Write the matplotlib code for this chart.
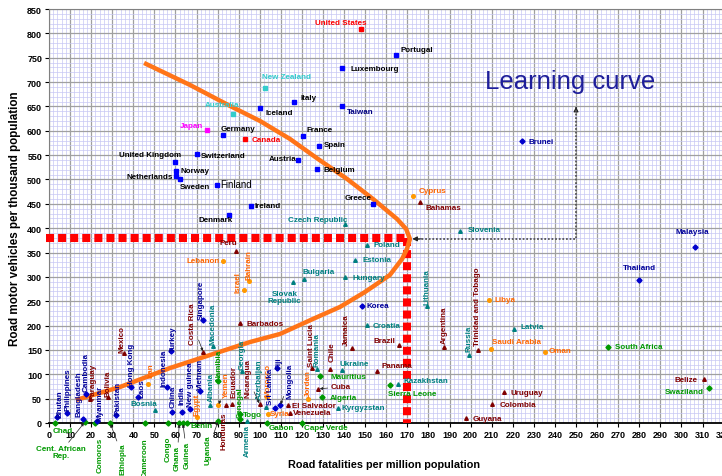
import matplotlib
matplotlib.use("Agg")
import matplotlib.pyplot as plt
from matplotlib.ticker import MultipleLocator

plt.rcParams['font.family'] = ['Liberation Sans', 'DejaVu Sans']

# ---------------- data ----------------
countries = [
    'United States', 'Portugal', 'Luxembourg', 'New Zealand', 'Italy', 'Iceland', 'Taiwan',
    'France', 'Spain', 'Canada', 'Germany', 'Japan', 'Australia', 'United Kingdom',
    'Switzerland', 'Norway', 'Netherlands', 'Sweden', 'Finland', 'Denmark', 'Ireland',
    'Austria', 'Belgium', 'Greece', 'Cyprus', 'Bahamas', 'Brunei', 'Malaysia', 'Thailand',
    'Korea', 'Slovenia', 'Czech Republic', 'Poland', 'Estonia', 'Hungary', 'Bulgaria',
    'Slovak Republic', 'Lithuania', 'Croatia', 'Latvia', 'Russia', 'Ukraine', 'Kazakhstan',
    'Kyrgyzstan', 'Macedonia', 'Albania', 'Romania', 'Bosnia', 'Georgia', 'Armenia',
    'Azerbaijan', 'Peru', 'Barbados', 'Trinidad and Tobago', 'Argentina', 'Belize',
    'Uruguay', 'Colombia', 'Guyana', 'Brazil', 'Panama', 'Jamaica', 'Chile', 'Saint Lucia',
    'Cuba', 'El Salvador', 'Venezuela', 'Nicaragua', 'Honduras', 'Ecuador', 'Costa Rica',
    'Mexico', 'Paraguay', 'Bolivia', 'Lebanon', 'Israel', 'Bahrain', 'Libya',
    'Saudi Arabia', 'Oman', 'Iran', 'Egypt', 'Yemen', 'Jordan', 'Morocco', 'Syria',
    'Chad', 'Cent. African Rep.', 'Comoros', 'Ethiopia', 'Cameroon', 'Congo', 'Ghana',
    'Guinea', 'Benin', 'Uganda', 'Namibia', 'Senegal', 'Togo', 'Gabon', 'Cape Verde',
    'Mauritius', 'Algeria', 'Sierra Leone', 'South Africa', 'Swaziland', 'Bhutan',
    'Philippines', 'Bangladesh', 'Cambodia', 'Myanmar', 'Pakistan', 'Hong Kong', 'Laos',
    'Indonesia', 'China', 'Turkey', 'India', 'New guinea', 'Vietnam', 'Singapore', 'Fiji',
    'Mongolia', 'Sri Lanka',
]
fatalities = [
    148, 164.5, 139, 102.5, 116.4, 100, 139,
    120.3, 128.2, 93, 82.4, 75.1, 87.4, 59.8,
    70, 60.2, 60.2, 62.1, 79.5, 85.4, 95.7,
    118, 127, 153.5, 172.8, 176, 224.2, 306.5, 280,
    148.3, 195, 140.4, 150.7, 145.2, 140.4, 121,
    115.6, 179.2, 151, 220.7, 199.4, 138.8, 165.7,
    137.2, 77.8, 76.4, 127, 50.3, 91.4, 94,
    103, 88.7, 90.6, 203.4, 187.5, 310.7,
    216, 210.3, 197.8, 166.2, 155.4, 143.6, 133.3, 124.6,
    127.8, 113.2, 114.3, 100, 84, 87, 73.2,
    35.6, 19.4, 28, 82.5, 92.7, 95, 208.7,
    209.7, 235.3, 47.1, 70, 80.3, 123, 103.3, 104,
    2.8, 17, 21.8, 29, 45.5, 56.3, 61.8,
    63.5, 65.5, 80.3, 80.3, 90.6, 90.6, 103.3, 119.9,
    128.6, 129.4, 161.8, 265, 313, 4,
    8.4, 16.3, 17.5, 23, 31.8, 38.8, 42,
    55.8, 58.5, 57.9, 63, 66.9, 71.6, 73.2, 108,
    109.6, 107,
]
vehicles = [
    809, 756, 728, 688, 660, 646, 651,
    589, 569, 583, 591, 602, 634, 535,
    552, 517, 507, 500, 489, 428, 446,
    539, 521, 450, 467, 453, 578, 362, 294,
    240, 395, 409, 365, 335, 300, 296,
    289, 240, 201, 194, 140, 109, 80,
    31, 158, 36, 111, 27, 107, 5,
    33, 354, 205, 150, 157, 90,
    63, 38, 10, 160, 107, 155, 111, 113,
    70, 36, 21, 38, 36, 40, 145,
    143, 49, 53, 333, 273, 292, 253,
    152, 145, 81, 12, 36, 49, 53, 19,
    0, 2, 0, 0, 0, 0, 0,
    0, 0, 5, 87, 8, 18, 0, 0,
    96, 53, 77, 157, 72, 12,
    20, 8, 60, 5, 16, 73, 53,
    73, 22, 147, 22, 29, 66, 212, 113,
    36, 30,
]
groups = [
    'us', 'hi', 'hi', 'anz', 'hi', 'hi', 'tw',
    'hi', 'hi', 'us', 'hi', 'jp', 'anz', 'hi',
    'hi', 'hi', 'hi', 'hi', 'hi', 'hi', 'hi',
    'hi', 'hi', 'hi', 'me', 'la', 'as', 'as', 'as',
    'as', 'ee', 'ee', 'ee', 'ee', 'ee', 'ee',
    'ee', 'ee', 'ee', 'ee', 'ee', 'ee', 'ee',
    'ee', 'ee', 'ee', 'ee', 'ee', 'ee', 'ee',
    'ee', 'la', 'la', 'la', 'la', 'la',
    'la', 'la', 'la', 'la', 'la', 'la', 'la', 'la',
    'la', 'la', 'la', 'la', 'la', 'la', 'la',
    'la', 'la', 'la', 'me', 'me', 'me', 'me',
    'me', 'me', 'me', 'me', 'me', 'me', 'me', 'me',
    'af', 'af', 'af', 'af', 'af', 'af', 'af',
    'af', 'af', 'af', 'af', 'af', 'af', 'af', 'af',
    'af', 'af', 'af', 'af', 'af', 'as',
    'as', 'as', 'as', 'as', 'as', 'as', 'as',
    'as', 'as', 'as', 'as', 'as', 'as', 'as', 'as',
    'as', 'as',
]

# learning-curve annotation
curve_x = [12.8, 33.7, 57.4, 76.4, 95.4, 109.6, 125.2, 138.0, 149.9, 161.7, 167.5,
           169.8, 171.2, 169.4, 165.1, 153.7, 141.4, 127.6, 114.3, 100.1, 85.9, 66.9, 45.1]
curve_y = [47.2, 73.9, 112.9, 139.6, 166.3, 182.8, 213.6, 238.2, 269.0, 303.9, 336.8,
           357.3, 377.8, 398.4, 418.9, 459.9, 501.0, 542.1, 583.2, 620.1, 650.9, 694.0, 739.2]
threshold_x = 170
threshold_y = 380
target_x = 250
target_y = 655

x_ticks = list(range(0, 321, 10))
y_ticks = list(range(0, 851, 50))

# ---------------- styles ----------------
STYLE = {
    'hi':  dict(marker='s', mc='#0000FF', tc='#000000'),
    'tw':  dict(marker='s', mc='#0000FF', tc='#000080'),
    'us':  dict(marker='s', mc='#FF0000', tc='#FF0000'),
    'jp':  dict(marker='s', mc='#FF00FF', tc='#FF00FF'),
    'anz': dict(marker='s', mc='#33CCCC', tc='#33CCCC'),
    'ee':  dict(marker='^', mc='#008080', tc='#008080'),
    'la':  dict(marker='^', mc='#800000', tc='#800000'),
    'me':  dict(marker='o', mc='#FF9900', tc='#FF6600'),
    'af':  dict(marker='D', mc='#009900', tc='#009900'),
    'as':  dict(marker='D', mc='#0000CC', tc='#000099'),
}

# label placement: (dx px, dy px, ha, va, rotation, arrow)
V = 90
LAYOUT = {
    'United States': (-20, 6, 'center', 'center', 0, False),
    'Portugal': (5, 5, 'left', 'center', 0, False),
    'Luxembourg': (8, 0, 'left', 'center', 0, False),
    'New Zealand': (-3, 11, 'left', 'center', 0, False),
    'Italy': (6, 4, 'left', 'center', 0, False),
    'Iceland': (6, -4, 'left', 'center', 0, False),
    'Taiwan': (5, -6, 'left', 'center', 0, False),
    'France': (4, 7, 'left', 'center', 0, False),
    'Spain': (5, 1, 'left', 'center', 0, False),
    'Canada': (7, 0, 'left', 'center', 0, False),
    'Germany': (-2, 7, 'left', 'center', 0, False),
    'Japan': (-4, 4, 'right', 'center', 0, False),
    'Australia': (-11, 10, 'center', 'center', 0, False),
    'United Kingdom': (-25, 8, 'center', 'center', 0, False),
    'Switzerland': (4, -1, 'left', 'center', 0, False),
    'Norway': (5, 1, 'left', 'center', 0, False),
    'Netherlands': (-3, 0, 'right', 'center', 0, False),
    'Sweden': (0, -7, 'left', 'center', 0, False),
    'Finland': (4, 1, 'left', 'center', 0, False),
    'Denmark': (-13, -5, 'center', 'center', 0, False),
    'Ireland': (4, 0, 'left', 'center', 0, False),
    'Austria': (-1, 2, 'right', 'center', 0, False),
    'Belgium': (7, 0, 'left', 'center', 0, False),
    'Greece': (-1, 6, 'right', 'center', 0, False),
    'Cyprus': (5, 5, 'left', 'center', 0, False),
    'Bahamas': (5, -5, 'left', 'center', 0, False),
    'Brunei': (7, 0, 'left', 'center', 0, False),
    'Malaysia': (-3, 15, 'center', 'center', 0, False),
    'Thailand': (0, 12, 'center', 'center', 0, False),
    'Korea': (5, 1, 'left', 'center', 0, False),
    'Slovenia': (8, 1, 'left', 'center', 0, False),
    'Czech Republic': (2, 4, 'right', 'center', 0, False),
    'Poland': (7, 1, 'left', 'center', 0, False),
    'Estonia': (7, 0, 'left', 'center', 0, False),
    'Hungary': (8, -1, 'left', 'center', 0, False),
    'Bulgaria': (-2, 7, 'left', 'center', 0, False),
    'Slovak Republic': (-8, -15, 'center', 'center', 0, False),
    'Lithuania': (0, 2, 'center', 'bottom', V, False),
    'Croatia': (5, 0, 'left', 'center', 0, False),
    'Latvia': (6, 2, 'left', 'center', 0, False),
    'Russia': (0, 4, 'center', 'bottom', V, False),
    'Ukraine': (-2, 6, 'left', 'center', 0, False),
    'Kazakhstan': (5, 4, 'left', 'center', 0, False),
    'Kyrgyzstan': (3, 0, 'left', 'center', 0, False),
    'Macedonia': (0, 2, 'center', 'bottom', V, False),
    'Albania': (1, 4, 'center', 'bottom', V, False),
    'Romania': (0, 3, 'center', 'bottom', V, False),
    'Bosnia': (2, 6, 'right', 'center', 0, False),
    'Georgia': (0, 2, 'center', 'bottom', V, False),
    'Armenia': (0, -3, 'center', 'top', V, False),
    'Azerbaijan': (-7, 8, 'center', 'bottom', V, False),
    'Peru': (1, 8, 'right', 'center', 0, False),
    'Barbados': (7, 0, 'left', 'center', 0, False),
    'Trinidad and Tobago': (0, 5, 'center', 'bottom', V, False),
    'Argentina': (0, 4, 'center', 'bottom', V, False),
    'Belize': (-6, 0, 'right', 'center', 0, False),
    'Uruguay': (6, 0, 'left', 'center', 0, False),
    'Colombia': (7, 0, 'left', 'center', 0, False),
    'Guyana': (7, 0, 'left', 'center', 0, False),
    'Brazil': (-4, 5, 'right', 'center', 0, False),
    'Panama': (5, 5, 'left', 'center', 0, False),
    'Jamaica': (-5, 3, 'center', 'bottom', V, False),
    'Chile': (2, 8, 'center', 'bottom', V, False),
    'Saint Lucia': (0, 2, 'center', 'bottom', V, False),
    'Cuba': (12, 2, 'left', 'center', 0, True),
    'El Salvador': (4, 0, 'left', 'center', 0, False),
    'Venezuela': (3, 0, 'left', 'center', 0, False),
    'Nicaragua': (-12, 7, 'center', 'bottom', V, True),
    'Honduras': (-2, -6, 'center', 'top', V, False),
    'Ecuador': (2, 7, 'center', 'bottom', V, False),
    'Costa Rica': (-11, 8, 'center', 'bottom', V, True),
    'Mexico': (-2, 1, 'center', 'bottom', V, False),
    'Paraguay': (3, 0, 'center', 'bottom', V, False),
    'Bolivia': (0, 1, 'center', 'bottom', V, False),
    'Lebanon': (-3, 0, 'right', 'center', 0, False),
    'Israel': (-6, -2, 'center', 'bottom', V, False),
    'Bahrain': (0, 2, 'center', 'bottom', V, False),
    'Libya': (6, 0, 'left', 'center', 0, False),
    'Saudi Arabia': (1, 7, 'left', 'center', 0, False),
    'Oman': (4, 2, 'left', 'center', 0, False),
    'Iran': (3, 7, 'center', 'bottom', V, False),
    'Egypt': (0, 2, 'center', 'bottom', V, False),
    'Yemen': (8, 8, 'center', 'bottom', V, True),
    'Jordan': (0, 3, 'center', 'bottom', V, False),
    'Morocco': (1, 1, 'center', 'bottom', V, False),
    'Syria': (2, 0, 'left', 'center', 0, False),
    'Chad': (8, -8, 'center', 'center', 0, False),
    'Cent. African Rep.': (-24, -30, 'center', 'center', 0, True),
    'Comoros': (5, -14, 'center', 'top', V, False),
    'Ethiopia': (13, -19, 'center', 'top', V, True),
    'Cameroon': (0, -14, 'center', 'top', V, False),
    'Congo': (0, -13, 'center', 'top', V, False),
    'Ghana': (-2, -22, 'center', 'top', V, True),
    'Guinea': (4, -18, 'center', 'top', V, True),
    'Benin': (3, -3, 'left', 'center', 0, False),
    'Uganda': (-10, -14, 'center', 'top', V, True),
    'Namibia': (1, 1, 'center', 'bottom', V, False),
    'Senegal': (0, 2, 'center', 'bottom', V, False),
    'Togo': (3, 0, 'left', 'center', 0, False),
    'Gabon': (2, -5, 'left', 'center', 0, False),
    'Cape Verde': (2, -5, 'left', 'center', 0, False),
    'Mauritius': (10, 0, 'left', 'center', 0, False),
    'Algeria': (8, 0, 'left', 'center', 0, False),
    'Sierra Leone': (-2, -8, 'left', 'center', 0, False),
    'South Africa': (7, 0, 'left', 'center', 0, False),
    'Swaziland': (-5, -4, 'right', 'center', 0, False),
    'Bhutan': (3, 0, 'center', 'bottom', V, False),
    'Philippines': (1, 3, 'center', 'bottom', V, False),
    'Bangladesh': (-4, 3, 'center', 'bottom', V, False),
    'Cambodia': (0, 3, 'center', 'bottom', V, False),
    'Myanmar': (3, 1, 'center', 'bottom', V, False),
    'Pakistan': (2, 1, 'center', 'bottom', V, False),
    'Hong Kong': (1, 1, 'center', 'bottom', V, False),
    'Laos': (4, 0, 'center', 'bottom', V, False),
    'Indonesia': (-3, 1, 'center', 'bottom', V, False),
    'China': (1, 5, 'center', 'bottom', V, False),
    'Turkey': (2, 0, 'center', 'bottom', V, False),
    'India': (0, 8, 'center', 'bottom', V, False),
    'New guinea': (0, 3, 'center', 'bottom', V, False),
    'Vietnam': (0, 2, 'center', 'bottom', V, False),
    'Singapore': (-2, 1, 'center', 'bottom', V, False),
    'Fiji': (2, 0, 'center', 'bottom', V, False),
    'Mongolia': (10, 7, 'center', 'bottom', V, True),
    'Sri Lanka': (-4, 4, 'center', 'bottom', V, False),
}
LABEL_TEXT = {'Slovak Republic': 'Slovak\nRepublic', 'Cent. African Rep.': 'Cent. African\nRep.'}

# ---------------- figure ----------------
W, H = 722, 477
fig = plt.figure(figsize=(W / 100, H / 100), dpi=100)
fig.patch.set_facecolor('white')
ax = fig.add_axes([49 / W, 53 / H, 674.6 / W, 414 / H])
ax.set_xlim(0, 320)
ax.set_ylim(0, 850)

ax.xaxis.set_minor_locator(MultipleLocator(2))
ax.yaxis.set_minor_locator(MultipleLocator(10))
ax.set_xticks(x_ticks)
ax.set_yticks(y_ticks)
ax.set_xticklabels([str(t) for t in x_ticks], fontsize=6.5, fontweight='bold')
ax.set_yticklabels([str(t) for t in y_ticks], fontsize=6.5, fontweight='bold')
ax.grid(which='minor', color='#C8C8F4', lw=0.5)
ax.grid(which='major', color='#A0A0A0', lw=0.9)
ax.set_axisbelow(True)
ax.tick_params(which='major', length=3, width=0.8, pad=2)
ax.tick_params(which='minor', length=0)
for s in ['left', 'top']:
    ax.spines[s].set_color('#808080')
ax.spines['right'].set_visible(False)
ax.spines['bottom'].set_color('black')
ax.spines['bottom'].set_linewidth(1.3)

# red threshold dashes
ax.plot([-1.5, threshold_x], [threshold_y, threshold_y], color='#FF0000', lw=5.8,
        dashes=(1.0, 0.5), dash_capstyle='butt', clip_on=False, zorder=3)
ax.plot([threshold_x, threshold_x], [threshold_y, 0], color='#FF0000', lw=5.8,
        dashes=(1.0, 0.5), dash_capstyle='butt', clip_on=False, zorder=3)

# learning curve
ax.plot(curve_x, curve_y, color='#FF7418', lw=3.2, solid_joinstyle='round',
        solid_capstyle='butt', zorder=4)

# dotted arrows
ax.plot([target_x, target_x, threshold_x + 5], [target_y - 12, threshold_y - 2, threshold_y - 2],
        color='#555555', lw=1.3, ls=(0, (1, 1)), zorder=4)
ax.annotate('', xy=(target_x, target_y), xytext=(target_x, target_y - 14),
            arrowprops=dict(arrowstyle='-|>', color='#222222', lw=0.8, mutation_scale=7))
ax.annotate('', xy=(threshold_x + 1, threshold_y - 2), xytext=(threshold_x + 8, threshold_y - 2),
            arrowprops=dict(arrowstyle='-|>', color='#222222', lw=0.8, mutation_scale=7))

ax.text(206.8, 702, 'Learning curve', fontsize=18.5, color='#1E1E9A', ha='left', va='center')

# points + labels
for name, fx, vy, g in zip(countries, fatalities, vehicles, groups):
    st = STYLE[g]
    ax.plot(fx, vy, marker=st['marker'], color=st['mc'], ms=2.6, ls='none',
            clip_on=False, zorder=5)
    dx, dy, ha, va, rot, arrow = LAYOUT[name]
    fs = 7 if name == 'Finland' else 5.8
    fw = 'normal' if name == 'Finland' else 'bold'
    kw = {}
    if arrow:
        kw['arrowprops'] = dict(arrowstyle='-|>', color='#222222', lw=0.5,
                                mutation_scale=4, shrinkA=0, shrinkB=1)
    ax.annotate(LABEL_TEXT.get(name, name), xy=(fx, vy), xytext=(dx, dy),
                textcoords='offset pixels', ha=ha, va=va, rotation=rot,
                fontsize=fs, fontweight=fw, color=st['tc'], linespacing=1.0,
                annotation_clip=False, zorder=6, **kw)

fig.text(384 / W, 1 - 465 / H, 'Road fatalities per million population', ha='center',
         va='center', fontsize=7.8, fontweight='bold')
fig.text(15 / W, 1 - 219 / H, 'Road motor vehicles per thousand population', ha='center',
         va='center', rotation=90, fontsize=8.4, fontweight='bold')

fig.savefig('out.png', dpi=100, facecolor='white')
